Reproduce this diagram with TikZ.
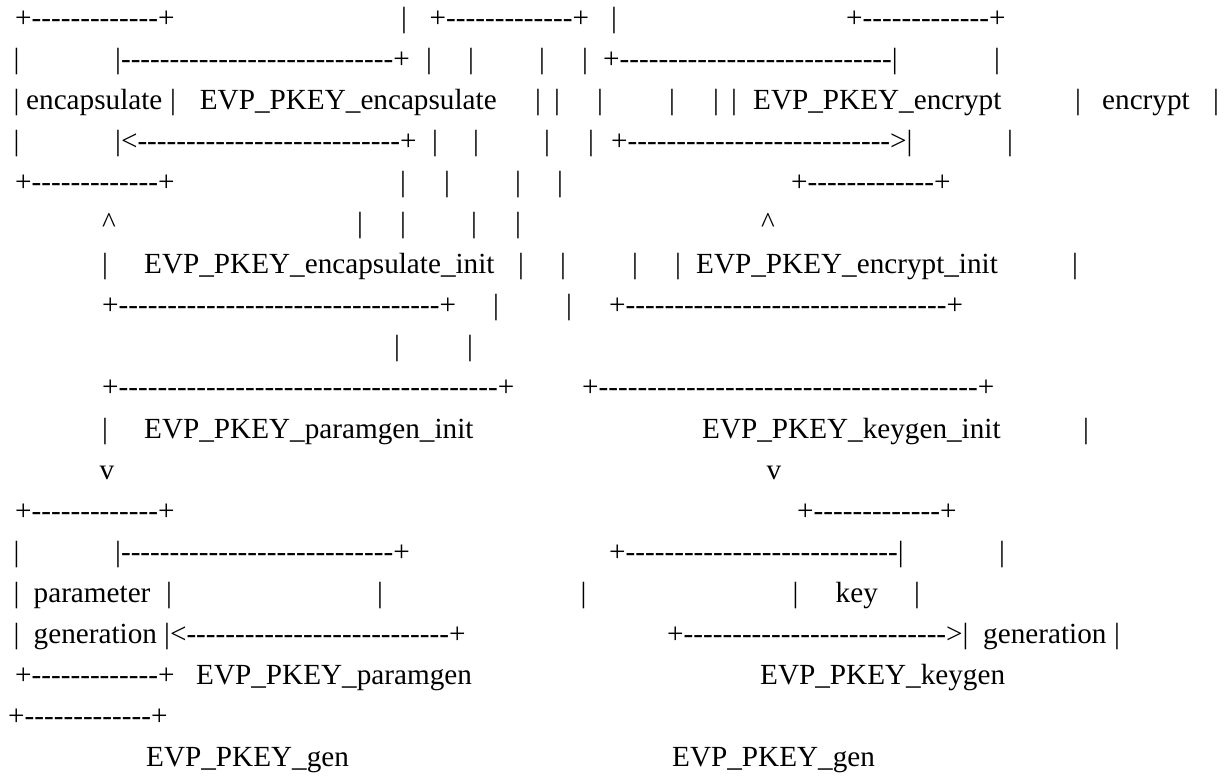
\documentclass[tikz,border=0pt]{standalone}
\usepackage{fontspec}
\newfontfamily\asciifont{Liberation Serif}[Ligatures=TeXOff]
\newcommand\dashes[1]{\ifnum#1>0 -\expandafter\dashes\expandafter{\the\numexpr#1-1\relax}\fi}

\tikzset{
    asc/.style={inner sep=0pt, anchor=base west, font=\asciifont\fontsize{29.2}{35}\selectfont},
    bar/.style={asc, anchor=base},
}

\begin{document}
\begin{tikzpicture}[x=1pt, y=-41.1pt]
    \useasboundingbox (0,0.343) rectangle (1227,19.2);

    % boxes: encapsulate / encrypt
    \node (encTop) at (15,1) [asc] {+\dashes{13}+};
    \node (midTop) at (429.5,1) [asc] {+\dashes{13}+};
    \node (cryTop) at (846,1) [asc] {+\dashes{13}+};
    \node (encOut) at (115,2) [asc] {|\dashes{28}+};
    \node (cryIn) at (603,2) [asc] {+\dashes{28}|};
    \node (encL) at (26,3) [asc] {encapsulate};
    \node (encFn) at (199.7,3) [asc] {EVP\_PKEY\_encapsulate};
    \node (cryFn) at (753,3) [asc] {EVP\_PKEY\_encrypt};
    \node (cryL) at (1102,3) [asc] {encrypt};
    \node (encIn) at (115,4) [asc] {|<\dashes{27}+};
    \node (cryOut) at (611,4) [asc] {+\dashes{27}>|};
    \node (encBot) at (15,5) [asc] {+\dashes{13}+};
    \node (cryBot) at (791,5) [asc] {+\dashes{13}+};
    \node (encUp) at (109,6) [bar] {\textasciicircum};
    \node (cryUp) at (768,6) [bar] {\textasciicircum};
    \node (encInit) at (144,7) [asc] {EVP\_PKEY\_encapsulate\_init};
    \node (cryInit) at (696,7) [asc] {EVP\_PKEY\_encrypt\_init};
    \node (encLoop) at (102,8) [asc] {+\dashes{33}+};
    \node (cryLoop) at (609,8) [asc] {+\dashes{33}+};

    % boxes: parameter / key generation
    \node (parLoop) at (102,10) [asc] {+\dashes{39}+};
    \node (keyLoop) at (582,10) [asc] {+\dashes{39}+};
    \node (parInit) at (144,11) [asc] {EVP\_PKEY\_paramgen\_init};
    \node (keyInit) at (702,11) [asc] {EVP\_PKEY\_keygen\_init};
    \node (parDown) at (107,12) [bar] {v};
    \node (keyDown) at (774,12) [bar] {v};
    \node (parTop) at (15,13) [asc] {+\dashes{13}+};
    \node (keyTop) at (797,13) [asc] {+\dashes{13}+};
    \node (parOut) at (115,14) [asc] {|\dashes{28}+};
    \node (keyIn) at (609,14) [asc] {+\dashes{28}|};
    \node (parL) at (33.5,15) [asc] {parameter};
    \node (keyL) at (835.5,15) [asc] {key};
    \node (parL2) at (33.5,16) [asc] {generation};
    \node (parIn) at (164,16) [asc] {|<\dashes{27}+};
    \node (keyOut) at (667,16) [asc] {+\dashes{27}>|};
    \node (keyL2) at (983,16) [asc] {generation};
    \node (parBot) at (15,17) [asc] {+\dashes{13}+};
    \node (parFn) at (196,17) [asc] {EVP\_PKEY\_paramgen};
    \node (keyFn) at (760,17) [asc] {EVP\_PKEY\_keygen};
    \node (genBox) at (8,18) [asc] {+\dashes{13}+};
    \node (parGen) at (146,19) [asc] {EVP\_PKEY\_gen};
    \node (keyGen) at (672,19) [asc] {EVP\_PKEY\_gen};

    % the loose bars
    \foreach \r/\x in {1/404, 1/614,
        2/16.5, 2/429, 2/471, 2/542, 2/585, 2/997,
        3/16.5, 3/173, 3/538, 3/557, 3/600, 3/672, 3/716, 3/734, 3/1078, 3/1216,
        4/16.5, 4/435, 4/476, 4/547, 4/591, 4/1010,
        5/403, 5/447, 5/518, 5/560,
        6/360, 6/403, 6/474, 6/518,
        7/105, 7/521, 7/563, 7/635, 7/678, 7/1075,
        8/496, 8/569,
        9/397, 9/470,
        11/105, 11/1086,
        14/16.5, 14/1002,
        15/16.5, 15/169, 15/380, 15/583.5, 15/795.5, 15/917,
        16/16.5, 16/1117}
        \node (b\r-\x) at (\x,\r) [bar] {|};
\end{tikzpicture}
\end{document}
